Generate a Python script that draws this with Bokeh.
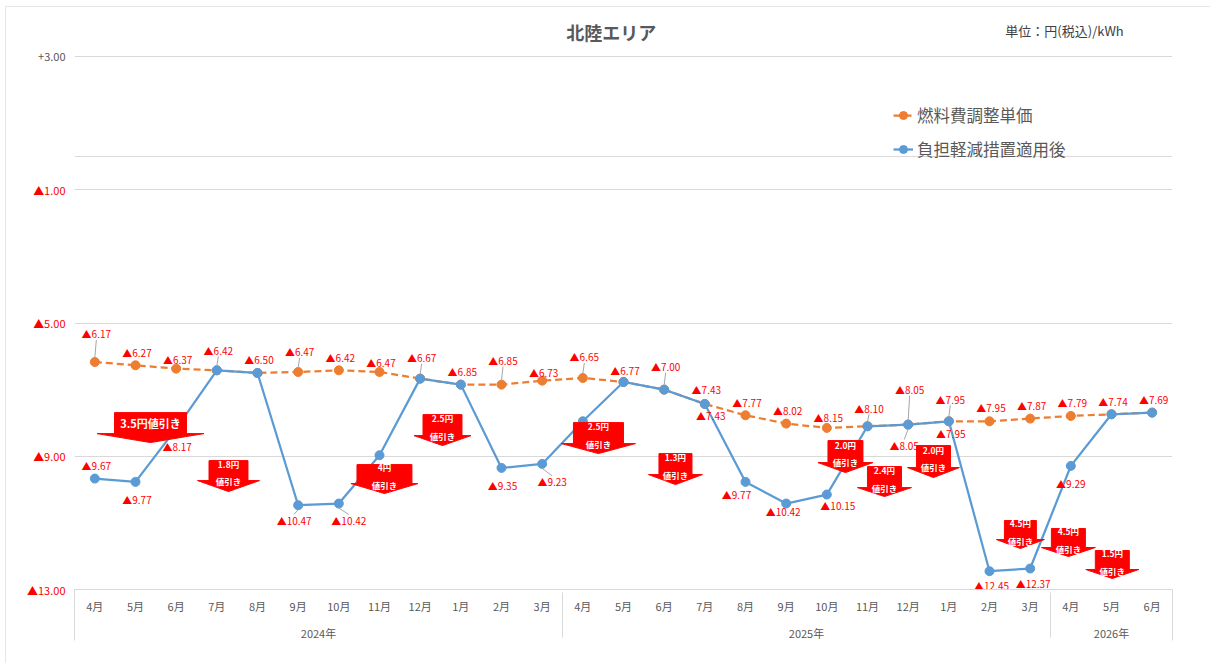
from bokeh.plotting import figure
from bokeh.models import (FactorRange, ColumnDataSource, Legend, LegendItem,
                          FixedTicker, CustomJSTickFormatter, Span)
from bokeh.embed import file_html
from bokeh.resources import INLINE
from bokeh.core.properties import value

# ---------------- data ----------------
years = ["2024年"] * 12 + ["2025年"] * 12 + ["2026年"] * 3
months = ["4月", "5月", "6月", "7月", "8月", "9月", "10月", "11月", "12月", "1月", "2月", "3月"] * 2 + ["4月", "5月", "6月"]
fuel = [-6.17, -6.27, -6.37, -6.42, -6.50, -6.47, -6.42, -6.47, -6.67, -6.85, -6.85, -6.73,
        -6.65, -6.77, -7.00, -7.43, -7.77, -8.02, -8.15, -8.10, -8.05, -7.95, -7.95, -7.87,
        -7.79, -7.74, -7.69]
after = [-9.67, -9.77, -8.17, -6.42, -6.50, -10.47, -10.42, -8.97, -6.67, -6.85, -9.35, -9.23,
         -7.95, -6.77, -7.00, -7.43, -9.77, -10.42, -10.15, -8.10, -8.05, -7.95, -12.45, -12.37,
         -9.29, -7.74, -7.69]
series_names = ["燃料費調整単価", "負担軽減措置適用後"]
y_ticks = [3, -1, -5, -9, -13]
discounts = ["3.5円値引き", "1.8円\n値引き", "4円\n値引き", "2.5円\n値引き", "2.5円\n値引き",
             "1.3円\n値引き", "2.0円\n値引き", "2.4円\n値引き", "2.0円\n値引き", "4.5円\n値引き",
             "4.5円\n値引き", "1.5円\n値引き"]
title_text = "北陸エリア"
unit_text = "単位：円(税込)/kWh"

# ---------------- layout / style ----------------
FONT = "Noto Sans CJK JP"
ORANGE = "#ED7D31"
BLUE = "#5B9BD5"
RED = "#FF0000"
GREY_TXT = "#595959"
GRID = "#D9D9D9"
W_FRAME, H_DATA = 1098, 533          # pixels spanned by the 27 months and by +3 .. -13
TOP_PAD = 40                          # extra frame pixels above +3 for the titles
Y_MIN, Y_TOP = -13, 3
N = len(months)
PX_X = W_FRAME / N
PX_Y = H_DATA / (Y_TOP - Y_MIN)
Y_END = Y_TOP + TOP_PAD / PX_Y

# label offsets in screen pixels (positive dy = downwards)
fuel_lbl_dy = [-28, -13, -9, -20, -13, -20, -13, -9, -21, -13, -24, -8, -21, -11, -23, -14,
               -13, -13, -10, -18, -35, -22, -14, -13, -13, -13, -13]
fuel_lbl_dx = [1.5] * N
fuel_leaders = [0, 3, 5, 8, 10, 12, 14, 19, 20, 21]
after_lbl_idx = [0, 1, 2, 5, 6, 10, 11, 15, 16, 17, 18, 20, 21, 22, 23, 24]
after_lbl_dx = [1.5, 1.5, 1, -4, 10, 1, 10, 6, -9, -3, 11, -4, 2, 2, 3, 0]
after_lbl_dy = [-13, 18, 18, 15, 17, 18, 18, 12, 13, 8, 11, 21, 12, 14, 15, 18]
after_leaders = [5, 6, 11, 20]

# arrow annotations: centre (category index), box half width, wing half width (category units),
# box top, box bottom, tip (value units)
arrow_geom = [
    (1.369, 0.885, 1.315, -7.69, -8.32, -8.59),
    (3.287, 0.479, 0.762, -9.13, -9.73, -10.06),
    (7.122, 0.676, 0.824, -9.25, -9.82, -10.12),
    (8.549, 0.479, 0.701, -7.75, -8.38, -8.68),
    (12.384, 0.615, 0.910, -7.99, -8.62, -8.92),
    (14.278, 0.406, 0.664, -8.92, -9.55, -9.85),
    (18.458, 0.430, 0.676, -8.53, -9.19, -9.49),
    (19.417, 0.418, 0.664, -9.31, -9.94, -10.21),
    (20.622, 0.418, 0.639, -8.68, -9.34, -9.64),
    (22.76, 0.393, 0.590, -10.93, -11.50, -11.77),
    (23.94, 0.418, 0.664, -11.17, -11.74, -12.01),
    (25.02, 0.418, 0.652, -11.83, -12.40, -12.67),
]

factors = list(zip(years, months))
x_range = FactorRange(*factors, factor_padding=0, group_padding=0, subgroup_padding=0, range_padding=0)

p = figure(x_range=x_range, y_range=(Y_MIN, Y_END), frame_width=W_FRAME, frame_height=H_DATA + TOP_PAD,
           min_border_left=74, min_border_right=38, min_border_top=16, min_border_bottom=74,
           output_backend="svg", toolbar_location=None,
           background_fill_color="white", border_fill_color="white")
p.outline_line_color = None

# y axis
p.yaxis.ticker = FixedTicker(ticks=y_ticks)
p.yaxis.formatter = CustomJSTickFormatter(
    code="return tick > 0 ? '' : '\u25b2' + Math.abs(tick).toFixed(2);")
p.yaxis.major_label_text_color = RED
p.yaxis.major_label_text_font = FONT
p.yaxis.major_label_text_font_size = "11px"
p.yaxis.axis_line_color = None
p.yaxis.major_tick_line_color = None
p.yaxis.minor_tick_line_color = None
p.yaxis.major_tick_out = 0
p.yaxis.major_label_standoff = 9
p.ygrid.ticker = FixedTicker(ticks=y_ticks)
p.ygrid.grid_line_color = GRID
p.xgrid.grid_line_color = None
p.add_layout(Span(location=0, dimension="width", line_color=GRID, line_width=1))

# x axis
xa = p.xaxis[0]
xa.axis_line_color = GRID
xa.major_tick_line_color = None
xa.minor_tick_line_color = None
xa.major_tick_out = 0
xa.major_label_text_font = FONT
xa.major_label_text_font_size = "11px"
xa.major_label_text_color = GREY_TXT
xa.major_label_standoff = 8
xa.group_text_font = FONT
xa.group_text_font_size = "11px"
xa.group_text_color = GREY_TXT
xa.group_text_font_style = "normal"
xa.separator_line_color = GRID
xa.separator_line_width = 1

# outer borders of the category table (drawn unclipped)
p.segment(x0=[0, N], y0=[Y_MIN, Y_MIN], x1=[0, N], y1=[Y_MIN - 51 / PX_Y] * 2,
          line_color=GRID, line_width=1, level="overlay")
# faint chart-area border along the top and left edges
bx = -69 / PX_X
by = Y_TOP + 50 / PX_Y
p.segment(x0=[bx, bx], y0=[by, by], x1=[N + 3, bx], y1=[by, Y_MIN - 120 / PX_Y],
          line_color="#E6E6E6", line_width=1, level="overlay")

# series
r_fl = p.line(factors, fuel, line_color=ORANGE, line_width=2.25, line_dash="7 4")
r_fs = p.scatter(factors, fuel, size=9, fill_color=ORANGE, line_color=ORANGE)
r_al = p.line(factors, after, line_color=BLUE, line_width=2.25)
r_as = p.scatter(factors, after, size=9, fill_color=BLUE, line_color=BLUE)

# arrows
axs, ays, tx, ty, tt, tsize, toff = [], [], [], [], [], [], []
for (cx, bw, ww, top, mid, tip), label in zip(arrow_geom, discounts):
    c = cx + 0.5
    axs.append([c - bw, c + bw, c + bw, c + ww, c, c - ww, c - bw])
    ays.append([top, top, mid, mid, tip, mid, mid])
    tx.append(c)
    ty.append((top + mid) / 2)
    tt.append(label)
    one_line = "\n" not in label
    tsize.append("11px" if one_line else "8.5px")
    toff.append(0 if one_line else 2)
p.patches(axs, ays, fill_color=RED, line_color=RED)
for size in ("11px", "8.5px"):
    sel = [k for k in range(len(tt)) if tsize[k] == size]
    src = ColumnDataSource(dict(x=[tx[k] for k in sel], y=[ty[k] for k in sel],
                                t=[tt[k] for k in sel], o=[toff[k] for k in sel]))
    p.text(x="x", y="y", text="t", y_offset="o", source=src, text_color="white",
           text_font=value(FONT), text_font_style="bold", text_font_size=size,
           text_align="center", text_baseline="middle", text_line_height=1.45)

# leader lines
def leaders(vals, idx_list, dx_list, dy_list, chosen):
    x0, y0, x1, y1 = [], [], [], []
    for i, dx, dy in zip(idx_list, dx_list, dy_list):
        if i not in chosen:
            continue
        s = 1 if dy > 0 else -1
        x0.append(i + 0.5)
        y0.append(vals[i] - s * 4.5 / PX_Y)
        x1.append(i + 0.5 + dx / PX_X)
        y1.append(vals[i] - (dy - s * 6) / PX_Y)
    return dict(x0=x0, y0=y0, x1=x1, y1=y1)

ld = leaders(fuel, list(range(N)), fuel_lbl_dx, fuel_lbl_dy, fuel_leaders)
la = leaders(after, after_lbl_idx, after_lbl_dx, after_lbl_dy, after_leaders)
for d in (ld, la):
    p.segment(x0="x0", y0="y0", x1="x1", y1="y1", source=ColumnDataSource(d),
              line_color="#A6A6A6", line_width=1)

# data labels
src_f = ColumnDataSource(dict(x=factors, y=fuel, t=["\u25b2%.2f" % abs(v) for v in fuel],
                              dx=fuel_lbl_dx, dy=fuel_lbl_dy))
src_a = ColumnDataSource(dict(x=[factors[i] for i in after_lbl_idx],
                              y=[after[i] for i in after_lbl_idx],
                              t=["\u25b2%.2f" % abs(after[i]) for i in after_lbl_idx],
                              dx=after_lbl_dx, dy=after_lbl_dy))
for src in (src_f, src_a):
    p.text(x="x", y="y", text="t", x_offset="dx", y_offset="dy", source=src,
           text_color=RED, text_font=value(FONT), text_font_size="10px",
           text_align="center", text_baseline="middle")

# legend
legend = Legend(items=[LegendItem(label=series_names[0], renderers=[r_fl, r_fs]),
                       LegendItem(label=series_names[1], renderers=[r_al, r_as])],
                location=(819, 428), orientation="vertical",
                border_line_color=None, background_fill_alpha=0,
                padding=0, margin=0, spacing=10, label_height=20, glyph_height=20,
                glyph_width=20, label_standoff=4,
                label_text_font=FONT, label_text_font_size="16.5px", label_text_color=GREY_TXT)
p.add_layout(legend)

# chart title, unit note (inside the top strip of the frame)
p.text(x=[13.2], y=[Y_TOP + 25 / PX_Y], text=[title_text], text_font=value(FONT),
       text_font_size="18px", text_font_style="bold", text_color=GREY_TXT,
       text_align="center", text_baseline="middle")
p.text(x=[22.89], y=[Y_TOP + 26 / PX_Y], text=[unit_text], text_font=value(FONT),
       text_font_size="13px", text_color="#404040", text_align="left", text_baseline="middle")
# "+3.00" tick label in grey (drawn unclipped, left of the frame)
p.text(x=[0], y=[y_ticks[0]], text=["+%.2f" % y_ticks[0]], x_offset=-9, text_font=value(FONT),
       text_font_size="11px", text_color=GREY_TXT, text_align="right", text_baseline="middle",
       level="overlay")

open("out.html", "w").write(file_html(p, INLINE, title=title_text))
